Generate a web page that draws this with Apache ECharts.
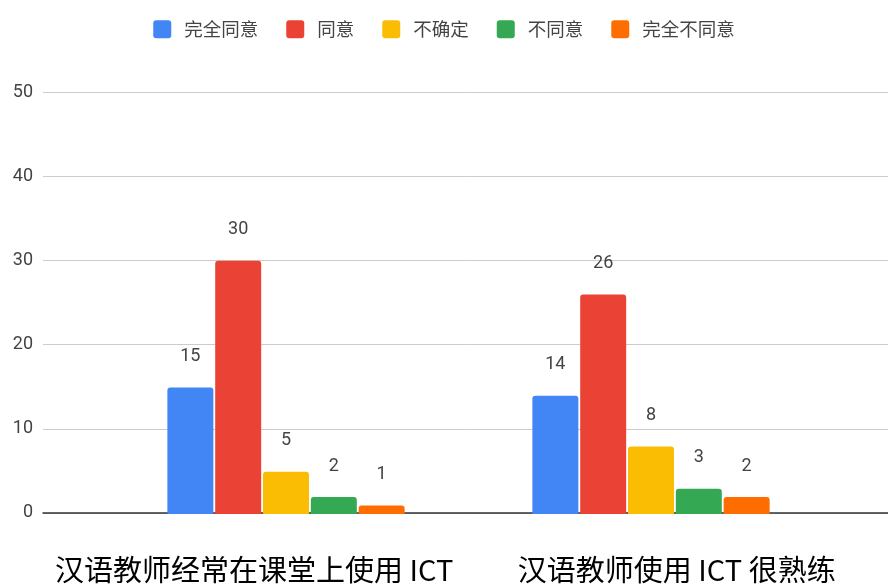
<!DOCTYPE html>
<html>
<head>
<meta charset="utf-8">
<script src="https://cdn.jsdelivr.net/npm/echarts@6/dist/echarts.min.js"></script>
<style>
  html, body { margin: 0; padding: 0; background: #fff; }
  #chart { width: 888px; height: 584px; }
</style>
</head>
<body>
<div id="chart"></div>
<script>
// data
const categories = ['汉语教师经常在课堂上使用 ICT', '汉语教师使用 ICT 很熟练'];
const seriesNames = ['完全同意', '同意', '不确定', '不同意', '完全不同意'];
const stronglyAgree = [15, 14];
const agree = [30, 26];
const unsure = [5, 8];
const disagree = [2, 3];
const stronglyDisagree = [1, 2];
const yTicks = [0, 10, 20, 30, 40, 50];

const COLORS = ['#4285F4', '#EA4335', '#FBBC04', '#34A853', '#FF6D01'];
const seriesData = [stronglyAgree, agree, unsure, disagree, stronglyDisagree];

// small rounded square for the legend swatches
const SWATCH = 'path://M3,0H15Q18,0 18,3V15Q18,18 15,18H3Q0,18 0,15V3Q0,0 3,0Z';

const chart = echarts.init(document.getElementById('chart'));

chart.setOption({
  animation: false,
  color: COLORS,
  legend: {
    top: 15,
    left: 'center',
    itemWidth: 18,
    itemHeight: 18,
    itemGap: 28,
    icon: SWATCH,
    textStyle: {
      color: '#444',
      fontSize: 18.5,
      fontFamily: 'Noto Sans CJK SC',
      padding: [0, 0, 0, 8]
    },
    data: seriesNames
  },
  // grid 0: full-width y axis + gridlines + category labels
  // grid 1: the bars themselves
  grid: [
    { left: 43, right: 0, top: 92, bottom: 70 },
    { left: 103.5, right: 54.5, top: 92, bottom: 70 }
  ],
  xAxis: [
    {
      type: 'category',
      gridIndex: 0,
      data: categories,
      axisLine: { lineStyle: { color: '#333', width: 1.5 } },
      axisTick: { show: false },
      axisLabel: {
        interval: 0,
        color: '#000',
        fontSize: 29,
        margin: 42,
        fontFamily: 'Noto Sans CJK SC'
      }
    },
    {
      type: 'category',
      gridIndex: 1,
      data: categories,
      axisLine: { show: false },
      axisTick: { show: false },
      axisLabel: { show: false }
    }
  ],
  yAxis: [
    {
      type: 'value',
      gridIndex: 0,
      min: yTicks[0],
      max: yTicks[yTicks.length - 1],
      interval: 10,
      axisLine: { show: false },
      axisTick: { show: false },
      splitLine: { lineStyle: { color: '#ccc' } },
      axisLabel: { color: '#444', fontSize: 18, margin: 10, fontFamily: 'Roboto' }
    },
    {
      type: 'value',
      gridIndex: 1,
      min: yTicks[0],
      max: yTicks[yTicks.length - 1],
      interval: 10,
      show: false,
      splitLine: { show: false }
    }
  ],
  series: seriesNames.map((name, i) => ({
    name,
    type: 'bar',
    xAxisIndex: 1,
    yAxisIndex: 1,
    data: seriesData[i],
    barCategoryGap: '35%',
    barGap: '4%',
    itemStyle: { borderRadius: [3, 3, 0, 0] },
    label: {
      show: true,
      position: 'top',
      distance: 22,
      color: '#444',
      fontSize: 18,
      fontFamily: 'Roboto'
    }
  }))
});
</script>
</body>
</html>
